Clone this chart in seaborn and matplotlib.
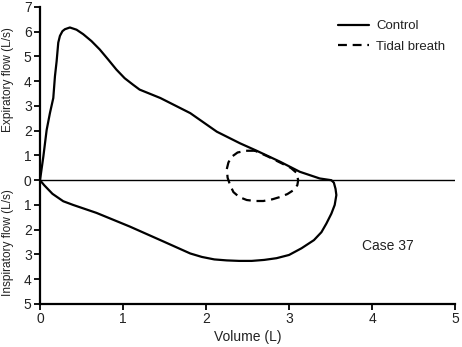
import matplotlib
matplotlib.use("Agg")
import matplotlib.pyplot as plt
import seaborn as sns
import pandas as pd

# Control flow-volume loop (expiratory positive, inspiratory negative)
control_vol = [0.0, 0.04, 0.08, 0.12, 0.16, 0.18, 0.2, 0.22, 0.24, 0.27, 0.3, 0.36, 0.44, 0.52,
               0.62, 0.72, 0.82, 0.92, 1.02, 1.12, 1.2, 1.45, 1.81, 2.13, 2.41, 2.61, 2.89,
               3.13, 3.37, 3.51,
               3.54, 3.56, 3.57, 3.55, 3.51, 3.45, 3.39, 3.3, 3.15, 3.0, 2.85, 2.7, 2.55,
               2.4, 2.25, 2.1, 1.95, 1.81, 1.49, 1.08, 0.68, 0.4, 0.28, 0.15, 0.05, 0.0]
control_flow = [0.0, 0.95, 2.03, 2.72, 3.32, 4.2, 4.8, 5.56, 5.83, 6.02, 6.1, 6.17, 6.08, 5.9,
                5.62, 5.28, 4.88, 4.47, 4.12, 3.86, 3.66, 3.32, 2.71, 1.96, 1.49, 1.19, 0.75,
                0.34, 0.07, 0.0,
                -0.1, -0.35, -0.6, -1.0, -1.35, -1.75, -2.1, -2.42, -2.75, -3.02, -3.15,
                -3.22, -3.26, -3.26, -3.24, -3.2, -3.1, -2.96, -2.48, -1.87, -1.32, -1.0,
                -0.85, -0.55, -0.2, 0.0]

# Tidal breath loop
tidal_vol = [2.59, 2.48, 2.38, 2.31, 2.27, 2.25, 2.26, 2.29, 2.33, 2.4, 2.49, 2.59, 2.69,
             2.8, 2.89, 2.98, 3.05, 3.1, 3.11, 3.09, 3.02, 2.9, 2.75, 2.59]
tidal_flow = [1.19, 1.19, 1.12, 0.95, 0.72, 0.45, 0.1, -0.2, -0.48, -0.68, -0.8, -0.84, -0.84,
              -0.77, -0.68, -0.56, -0.41, -0.2, 0.0, 0.3, 0.5, 0.7, 0.95, 1.19]

x_ticks = [0, 1, 2, 3, 4, 5]
y_ticks = [7, 6, 5, 4, 3, 2, 1, 0, -1, -2, -3, -4, -5]
y_ticklabels = ["7", "6", "5", "4", "3", "2", "1", "0", "1", "2", "3", "4", "5"]

sns.set_theme(style="ticks")
plt.rcParams["font.family"] = ["Liberation Sans", "DejaVu Sans"]

fig = plt.figure(figsize=(4.62, 3.47), dpi=100)
ax = fig.add_axes([0.0866, 0.124, 0.8984, 0.856])

ctrl = pd.DataFrame({"vol": control_vol, "flow": control_flow})
tid = pd.DataFrame({"vol": tidal_vol, "flow": tidal_flow})

ax.axhline(0, color="black", lw=1.0, zorder=1)
sns.lineplot(data=ctrl, x="vol", y="flow", sort=False, estimator=None, color="black",
             lw=1.6, ax=ax, label="Control")
sns.lineplot(data=tid, x="vol", y="flow", sort=False, estimator=None, color="black",
             lw=1.6, ax=ax, label="Tidal breath", dashes=False)
ax.lines[-1].set_dashes([4, 2.6])

ax.set_xlim(0, 5)
ax.set_ylim(-5, 7)
ax.set_xticks(x_ticks)
ax.set_yticks(y_ticks)
ax.set_yticklabels(y_ticklabels)
ax.tick_params(axis="both", labelsize=10, length=4, width=1.3, colors="black",
               labelcolor="#222222", pad=2)
for s in ["left", "bottom"]:
    ax.spines[s].set_linewidth(1.6)
    ax.spines[s].set_color("black")
sns.despine(ax=ax)

ax.set_xlabel("Volume (L)", fontsize=10, labelpad=3, color="#222222")
ax.set_ylabel("")
ax.text(-0.077, 4.05, "Expiratory flow (L/s)", rotation=90, ha="center", va="center",
        fontsize=8.6, transform=ax.get_yaxis_transform(), color="#222222")
ax.text(-0.077, -2.5, "Inspiratory flow (L/s)", rotation=90, ha="center", va="center",
        fontsize=8.6, transform=ax.get_yaxis_transform(), color="#222222")

ax.text(3.88, -2.64, "Case 37", fontsize=10, ha="left", va="center", color="#222222")

leg = ax.legend(loc="upper right", bbox_to_anchor=(0.989, 0.973), borderaxespad=0,
                frameon=False, fontsize=9.5, handlelength=2.3, handletextpad=0.55,
                labelspacing=0.6)
for t in leg.get_texts():
    t.set_color("#222222")

fig.savefig("out.png", dpi=100)
